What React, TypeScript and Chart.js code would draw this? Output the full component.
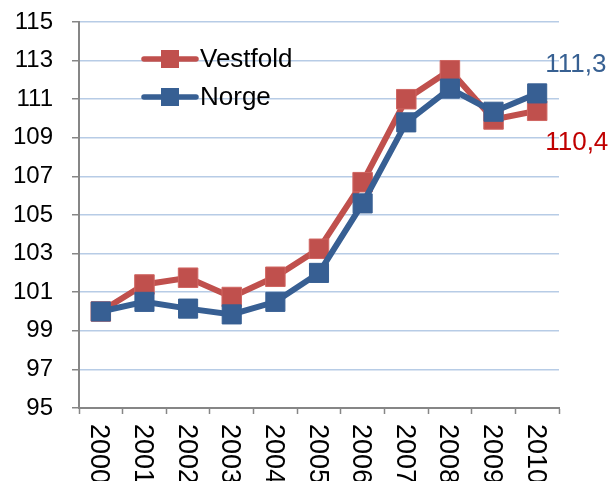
import React, { useEffect, useRef } from "react";
import { Chart, registerables } from "chart.js";

Chart.register(...registerables);

const categories = ["2000", "2001", "2002", "2003", "2004", "2005", "2006", "2007", "2008", "2009", "2010"];
const vestfold = [100, 101.4, 101.75, 100.75, 101.8, 103.25, 106.7, 111.0, 112.5, 109.95, 110.4];
const norge = [100, 100.5, 100.15, 99.85, 100.5, 102.0, 105.6, 109.8, 111.55, 110.35, 111.3];
const seriesNames = ["Vestfold", "Norge"];

const RED = "#c0504d";
const BLUE = "#375f93";
const AXIS = "#868686";
const GRID = "#b7cce6";
const FONT = "'Liberation Sans', Arial, sans-serif";

const customPlugin = {
  id: "custom",
  afterDraw(chart: any) {
    const ctx = chart.ctx;
    const xs = chart.scales.x;
    const ys = chart.scales.y;
    ctx.save();
    // rotated x labels (top-to-bottom)
    ctx.font = `27px ${FONT}`;
    ctx.fillStyle = "#000";
    categories.forEach((c, i) => {
      const x = xs.getPixelForValue(i);
      ctx.save();
      ctx.translate(x - 2, xs.top + 16);
      ctx.rotate(Math.PI / 2);
      ctx.textAlign = "left";
      ctx.textBaseline = "middle";
      ctx.fillText(c, 0, 0);
      ctx.restore();
    });
    // legend
    ctx.font = `26px ${FONT}`;
    const legendColors = [RED, BLUE];
    const legendY = [59, 97];
    seriesNames.forEach((n, i) => {
      const y = legendY[i];
      ctx.strokeStyle = legendColors[i];
      ctx.lineWidth = 5.5;
      ctx.lineCap = "round";
      ctx.beginPath();
      ctx.moveTo(144, y);
      ctx.lineTo(196, y);
      ctx.stroke();
      ctx.fillStyle = legendColors[i];
      ctx.fillRect(161, y - 9, 18, 18);
      ctx.fillStyle = "#000";
      ctx.textAlign = "left";
      ctx.textBaseline = "middle";
      ctx.fillText(n, 200, y + 1);
    });
    // end labels
    ctx.font = `26px ${FONT}`;
    const last = categories.length - 1;
    const px = xs.getPixelForValue(last);
    ctx.textAlign = "left";
    ctx.textBaseline = "middle";
    ctx.fillStyle = "#376092";
    ctx.fillText(String(norge[last]).replace(".", ","), px + 8, ys.getPixelForValue(norge[last]) - 29);
    ctx.fillStyle = "#c00000";
    ctx.fillText(String(vestfold[last]).replace(".", ","), px + 8, ys.getPixelForValue(vestfold[last]) + 32);
    ctx.restore();
  },
};

export default function App() {
  const ref = useRef<HTMLCanvasElement | null>(null);
  useEffect(() => {
    if (!ref.current) return;
    const chart = new Chart(ref.current, {
      type: "line",
      data: {
        labels: categories,
        datasets: [
          {
            label: seriesNames[0],
            data: vestfold,
            borderColor: RED,
            backgroundColor: RED,
            borderWidth: 6,
            pointStyle: "rect",
            pointRadius: 13.8,
            pointBorderWidth: 1,
            pointBorderColor: "#d06662",
            pointBackgroundColor: RED,
            tension: 0,
            order: 1,
          },
          {
            label: seriesNames[1],
            data: norge,
            borderColor: BLUE,
            backgroundColor: BLUE,
            borderWidth: 6,
            pointStyle: "rect",
            pointRadius: 13.5,
            pointBorderWidth: 1,
            pointBorderColor: BLUE,
            pointBackgroundColor: BLUE,
            tension: 0,
            order: 0,
          },
        ],
      },
      options: {
        responsive: false,
        animation: false,
        layout: { padding: { top: 22, right: 54, left: 0, bottom: 0 } },
        plugins: { legend: { display: false }, tooltip: { enabled: false } },
        scales: {
          x: {
            type: "category",
            offset: true,
            grid: {
              display: true,
              drawOnChartArea: false,
              drawTicks: true,
              tickLength: 6,
              tickColor: AXIS,
              tickWidth: 1.5,
              offset: true,
            },
            border: { color: AXIS, width: 2 },
            ticks: { display: false },
            afterFit: (s: any) => {
              s.height = 73;
              s.paddingLeft = 0;
              s.paddingRight = 0;
            },
          },
          y: {
            min: 95,
            max: 115,
            ticks: {
              stepSize: 2,
              color: "#000",
              font: { size: 24, family: FONT },
              padding: 19,
            },
            grid: {
              color: GRID,
              lineWidth: 1.5,
              tickColor: AXIS,
              tickLength: 7,
              tickWidth: 1.5,
            },
            border: { color: AXIS, width: 2 },
            afterFit: (s: any) => {
              s.width = 79;
              s.paddingTop = 0;
              s.paddingBottom = 0;
            },
          },
        },
      },
      plugins: [customPlugin],
    } as any);
    return () => chart.destroy();
  }, []);
  return (
    <div style={{ position: "absolute", left: 0, top: 0, width: 613, height: 481, background: "#fff" }}>
      <canvas ref={ref} width={613} height={481} style={{ display: "block" }} />
    </div>
  );
}
